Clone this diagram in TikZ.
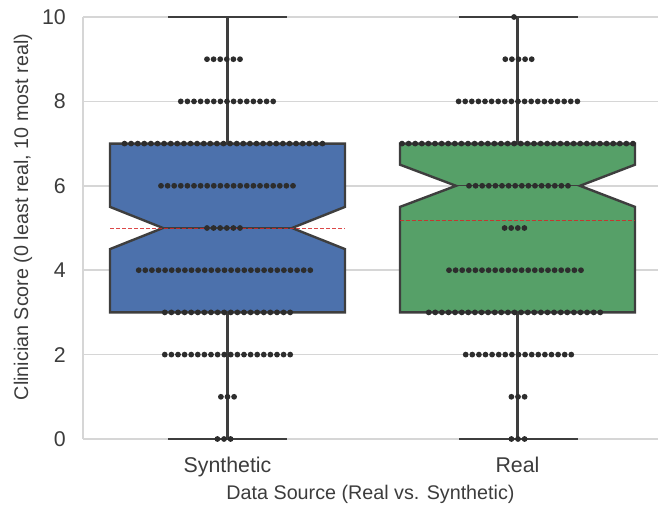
\documentclass[tikz,border=0pt]{standalone}
\usepackage{fontspec}
\setmainfont{Liberation Sans}
\usepackage{tikz}
\usepackage{xcolor}
\usetikzlibrary{arrows,shapes,positioning}

\definecolor{gridgray}{RGB}{214,214,214}
\definecolor{edgegray}{RGB}{62,62,62}
\definecolor{dotgray}{RGB}{45,45,45}
\definecolor{synblue}{RGB}{76,113,172}
\definecolor{realgreen}{RGB}{86,160,104}
\definecolor{meanred}{RGB}{214,40,40}
\definecolor{textgray}{RGB}{60,60,60}

\tikzset{
  gridline/.style={color=gridgray, line width=1.1pt},
  boxedge/.style={draw=edgegray, line width=1.8pt, line join=miter},
  whisker/.style={color=edgegray, line width=1.8pt},
  capline/.style={color=edgegray, line width=1.3pt},
  medianline/.style={color=edgegray, line width=0.8pt},
  meanline/.style={color=meanred, draw opacity=0.85, line width=0.6pt, dash pattern=on 3pt off 1.5pt},
  swarmdot/.style={fill=dotgray, draw=none},
  ticklabel/.style={text=textgray, font=\fontsize{16}{18}\selectfont, inner sep=0.75pt},
  axislabel/.style={text=textgray, font=\fontsize{14.8}{17}\selectfont, inner sep=0.75pt},
}

\begin{document}
\begin{tikzpicture}[x=0.75pt,y=0.75pt,yscale=-1,xscale=1]
\useasboundingbox (0,0) rectangle (658,506);

%Grid Lines
\foreach \s in {0,2,...,10}
  \draw[gridline] (83,{439-42.2*\s}) -- (658,{439-42.2*\s});
\draw[gridline] (83,17) -- (83,439);

%Whiskers and caps
\draw[whisker] (227.5,143.6) -- (227.5,17);
\draw[whisker] (227.5,312.4) -- (227.5,439);
\draw[capline] (168,17) -- (287,17);
\draw[capline] (168,439) -- (287,439);
\draw[whisker] (517.5,143.6) -- (517.5,17);
\draw[whisker] (517.5,312.4) -- (517.5,439);
\draw[capline] (459,17) -- (578,17);
\draw[capline] (459,439) -- (578,439);

%Shape: Notched Box [Synthetic]
\draw[boxedge, fill=synblue] (110,143.6) -- (345,143.6) -- (345,206.9) -- (292,228) -- (345,249.1) -- (345,312.4) -- (110,312.4) -- (110,249.1) -- (163,228) -- (110,206.9) -- cycle;
\draw[medianline] (163,228) -- (292,228);
\draw[meanline] (110,228) -- (345,228);

%Shape: Notched Box [Real]
\draw[boxedge, fill=realgreen] (400,143.6) -- (635,143.6) -- (635,164.7) -- (580,185.8) -- (635,206.9) -- (635,312.4) -- (400,312.4) -- (400,206.9) -- (456,185.8) -- (400,164.7) -- cycle;
\draw[medianline] (456,185.8) -- (580,185.8);
\draw[meanline] (400,220.7) -- (635,220.7);

%Swarm dots: score / count / row centre
\foreach \s/\n/\c in {0/3/224, 1/3/227.5, 2/20/227.5, 3/20/227.5, 4/27/224.5, 5/6/223.5, 6/21/227, 7/31/223.5, 8/15/227, 9/6/223.5,
                      0/3/518, 1/3/518, 2/17/518.5, 3/27/514.5, 4/21/515, 5/4/514.5, 6/16/518.5, 7/36/517.5, 8/19/518, 9/5/518.5, 10/1/514}
  \foreach \i in {1,...,\n}
    \fill[swarmdot] ({\c+(\i-(\n+1)/2)*6.6},{439-42.2*\s}) circle (2.9);

% Text Node
\foreach \s in {0,2,...,10}
  \node[ticklabel, anchor=east] (ytick\s) at (67,{439-42.2*\s}) {\s};
% Text Node
\node[ticklabel, anchor=base] (xtickSyn) at (227.5,473) {Synthetic};
% Text Node
\node[ticklabel, anchor=base] (xtickReal) at (517.5,473) {Real};
% Text Node
\node[axislabel, anchor=base] (xlabel) at (370.5,499) {Data Source (Real vs. Synthetic)};
% Text Node
\node[axislabel, anchor=base, rotate=90] (ylabel) at (28,217) {Clinician Score (0 least real, 10 most real)};

\end{tikzpicture}
\end{document}
